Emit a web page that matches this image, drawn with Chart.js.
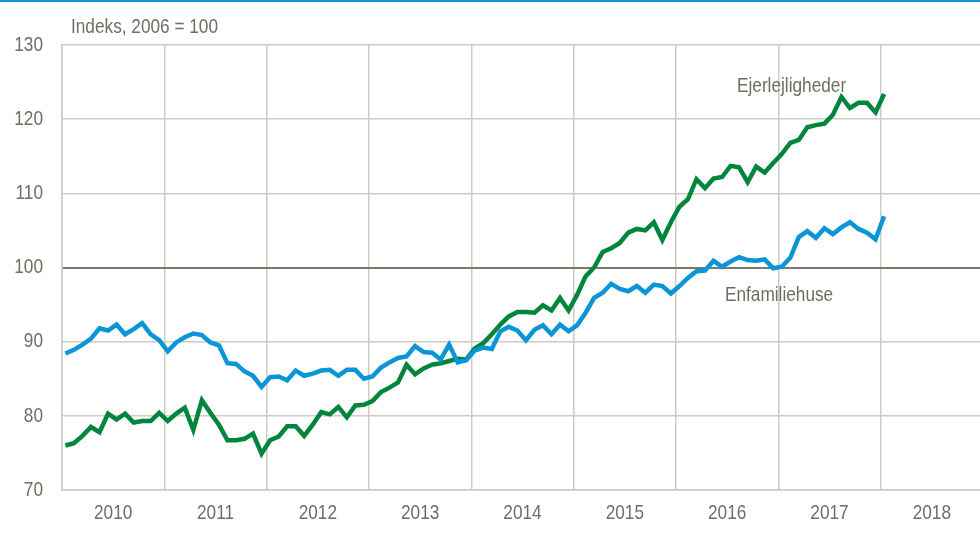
<!DOCTYPE html>
<html>
<head>
<meta charset="utf-8">
<script src="https://cdn.jsdelivr.net/npm/chart.js@4/dist/chart.umd.min.js"></script>
<style>
    body { margin: 0; overflow: hidden; background: #fff; }
    #wrap { position: absolute; left: 0; top: 0; width: 983px; height: 536px; }
    #topline { position: absolute; left: 0; top: 0; width: 980px; height: 2px; background: #0a96d6; }
    .note {
        position: absolute;
        font-family: 'Liberation Sans', Arial, sans-serif;
        font-size: 21px;
        color: #6e6e62;
        white-space: nowrap;
        line-height: 1;
        transform: scaleX(0.82);
        transform-origin: left top;
    }
</style>
</head>
<body>
<div id="wrap"><canvas id="chart" width="983" height="536"></canvas></div>
<div id="topline"></div>
<div class="note" style="left:71px; top:15px;">Indeks, 2006 = 100</div>
<div class="note" style="left:737px; top:74px;">Ejerlejligheder</div>
<div class="note" style="left:725px; top:283px;">Enfamiliehuse</div>
<script>
// monthly index, Jan 2010 .. Jan 2018
const years = ['2010', '2011', '2012', '2013', '2014', '2015', '2016', '2017', '2018'];
const yTicks = [70, 80, 90, 100, 110, 120, 130];

const enfamiliehuse = [
    88.4, 88.9, 89.6, 90.4, 91.8, 91.5, 92.3, 91.0, 91.7, 92.5, 91.0, 90.2,
    88.7, 89.9, 90.6, 91.1, 90.9, 89.9, 89.5, 87.1, 87.0, 86.0, 85.4, 83.9,
    85.2, 85.3, 84.8, 86.1, 85.4, 85.7, 86.1, 86.2, 85.4, 86.2, 86.2, 85.0,
    85.3, 86.5, 87.2, 87.8, 88.0, 89.4, 88.6, 88.5, 87.6, 89.6, 87.2, 87.5,
    88.8, 89.2, 89.0, 91.4, 92.0, 91.5, 90.2, 91.6, 92.2, 91.0, 92.3, 91.4,
    92.2, 93.9, 95.9, 96.6, 97.8, 97.1, 96.8, 97.5, 96.6, 97.7, 97.5, 96.5,
    97.5, 98.6, 99.5, 99.6, 100.9, 100.1, 100.8, 101.4, 101.0, 100.9, 101.1, 99.9,
    100.1, 101.3, 104.1, 104.9, 104.0, 105.3, 104.5, 105.4, 106.1, 105.2, 104.7, 103.8,
    106.9
];

const ejerlejligheder = [
    76.0, 76.3, 77.3, 78.5, 77.8, 80.3, 79.5, 80.3, 79.1, 79.3, 79.3, 80.4,
    79.3, 80.3, 81.1, 78.1, 82.1, 80.4, 78.8, 76.7, 76.7, 76.9, 77.6, 74.9,
    76.7, 77.2, 78.6, 78.6, 77.3, 78.8, 80.5, 80.2, 81.2, 79.8, 81.4, 81.5,
    82.0, 83.2, 83.8, 84.5, 86.9, 85.6, 86.4, 86.9, 87.1, 87.4, 87.7, 87.6,
    89.1, 89.8, 91.0, 92.3, 93.4, 94.0, 94.0, 93.9, 94.9, 94.2, 95.9, 94.2,
    96.3, 98.8, 100.0, 102.1, 102.6, 103.3, 104.7, 105.2, 105.0, 106.1, 103.7, 106.1,
    108.2, 109.2, 111.9, 110.7, 112.0, 112.2, 113.7, 113.5, 111.5, 113.6, 112.8, 114.1,
    115.3, 116.8, 117.2, 118.9, 119.2, 119.4, 120.6, 123.0, 121.5, 122.2, 122.2, 120.9,
    123.4
];

const textColor = '#6e6e62';
const gridColor = '#cdccc2';
const baseColor = '#7b796c';

// x = months since Jan 2010, placed a little into each month
function toPoints(values) {
    return values.map((v, i) => ({x: i + 0.4, y: v}));
}

// the reference uses a narrow font, so tick labels are drawn squeezed
const narrowTicks = {
    id: 'narrowTicks',
    afterDraw(chart) {
        const ctx = chart.ctx;
        const xs = chart.scales.x;
        const ys = chart.scales.y;
        ctx.save();
        ctx.fillStyle = textColor;
        ctx.font = "21px 'Liberation Sans', Arial, sans-serif";
        ctx.textBaseline = 'middle';

        ctx.textAlign = 'right';
        yTicks.forEach(t => {
            ctx.save();
            ctx.translate(ys.left + ys.width - 19, ys.getPixelForValue(t));
            ctx.scale(0.82, 1);
            ctx.fillText(String(t), 0, 0);
            ctx.restore();
        });

        ctx.textAlign = 'center';
        years.forEach((y, i) => {
            ctx.save();
            ctx.translate(xs.getPixelForValue(i * 12 + 6), xs.top + 23);
            ctx.scale(0.82, 1);
            ctx.fillText(y, 0, 0);
            ctx.restore();
        });
        ctx.restore();
    }
};

const config = {
    type: 'line',
    data: {
        datasets: [
            {
                label: 'Enfamiliehuse',
                data: toPoints(enfamiliehuse),
                borderColor: '#0a96d6',
                borderWidth: 4.5,
                pointRadius: 0,
                tension: 0
            },
            {
                label: 'Ejerlejligheder',
                data: toPoints(ejerlejligheder),
                borderColor: '#00853d',
                borderWidth: 4.5,
                pointRadius: 0,
                tension: 0
            }
        ]
    },
    options: {
        responsive: false,
        animation: false,
        layout: {
            padding: {top: 45, right: 0, bottom: 0, left: 0}
        },
        plugins: {
            legend: {display: false},
            tooltip: {enabled: false}
        },
        scales: {
            x: {
                type: 'linear',
                min: 0,
                max: years.length * 12,
                afterFit: (scale) => { scale.height = 46; },
                afterBuildTicks: (scale) => {
                    scale.ticks = years.map((y, i) => ({value: i * 12})).concat([{value: years.length * 12}]);
                },
                ticks: {display: false},
                grid: {
                    drawTicks: false,
                    lineWidth: 1.5,
                    color: gridColor
                },
                border: {display: true, color: gridColor, width: 1.5}
            },
            y: {
                min: 70,
                max: 130,
                afterFit: (scale) => { scale.width = 62; },
                ticks: {display: false, stepSize: 10},
                grid: {
                    drawTicks: false,
                    color: (ctx) => (ctx.tick && ctx.tick.value === 100) ? baseColor : gridColor,
                    lineWidth: (ctx) => (ctx.tick && ctx.tick.value === 100) ? 2 : 1.5
                },
                border: {display: true, color: gridColor, width: 1.5}
            }
        }
    },
    plugins: [narrowTicks]
};

new Chart(document.getElementById('chart'), config);
</script>
</body>
</html>
